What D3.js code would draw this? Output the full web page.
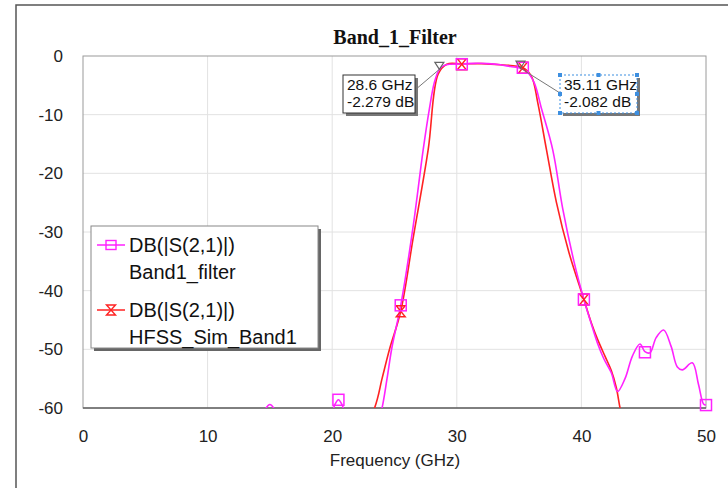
<!DOCTYPE html>
<html><head><meta charset="utf-8">
<script src="https://cdn.jsdelivr.net/npm/d3@7"></script>
<style>body{margin:0;background:#fff}svg{display:block}text{font-family:Arial,"Liberation Sans",sans-serif;fill:#222}</style>
</head><body><svg id="c" width="728" height="488"></svg>
<script>
const title = "Band_1_Filter";
const xLabel = "Frequency (GHz)";
const xTicks = [0,10,20,30,40,50];
const yTicks = [0,-10,-20,-30,-40,-50,-60];
// Band1_filter (magenta) trace [GHz, dB]
const filterFreq = [0,10,14,14.6,15,15.4,16,18,19.8,20.2,20.5,20.8,21.2,22.5,23.5,24.0,24.4,24.8,25.5,26.5,27.3,27.8,28.2,28.6,29.0,29.5,30.4,31.5,32.5,33.5,34.3,35.11,35.6,36.2,36.8,37.7,38.5,39.4,40.2,40.7,41.3,41.8,42.4,42.9,43.5,44.1,44.7,45.1,45.5,46.0,46.6,47.2,47.7,48.1,48.9,49.4,49.8,50];
const filterDb   = [-75,-70,-64,-60.3,-59.4,-60.3,-64,-66,-62,-59.5,-58.6,-59.5,-62,-68,-64,-60,-55,-49.6,-42.5,-29,-16,-9,-4.5,-2.279,-1.6,-1.4,-1.35,-1.25,-1.3,-1.5,-1.8,-2.082,-2.6,-4.5,-9,-16,-26,-35,-41.5,-45,-49,-51.6,-54,-57.2,-55,-51.1,-49.1,-50.4,-50.6,-48,-46.7,-49.5,-53,-53.5,-52.3,-56,-59.3,-59.5];
// HFSS_Sim_Band1 (red) trace
const hfssFreq = [20,23.4,24.0,24.6,25.5,26.5,27.7,28.5,29.2,30.4,32,33.5,35.3,36.0,36.5,37.2,38,39,40.2,40.8,41.3,41.9,42.4,42.8,43.1,43.5];
const hfssDb   = [-75,-60,-55,-50,-43.5,-31,-16,-3.1,-1.4,-1.35,-1.3,-1.5,-2.0,-3.5,-8,-16,-25,-33.5,-41.5,-45.5,-48.3,-51.2,-53.6,-56.5,-60,-64];
// symbol markers
const filterMarkFreq = [20.5,25.5,30.4,35.3,40.2,45.1,50];
const filterMarkDb   = [-58.6,-42.5,-1.4,-2.0,-41.5,-50.5,-59.5];
const hfssMarkFreq = [25.5,30.4,35.3,40.2];
const hfssMarkDb   = [-43.5,-1.4,-2.0,-41.5];
// marker readouts
const readFreq = [28.6,35.11];
const readDb = [-2.279,-2.082];
const readText = [["28.6 GHz","-2.279 dB"],["35.11 GHz","-2.082 dB"]];
const legendNames = [["DB(|S(2,1)|)","Band1_filter"],["DB(|S(2,1)|)","HFSS_Sim_Band1"]];

const MAG="#ff22ff", RED="#ff2222";
const svg=d3.select("#c");
const L=83,R=706,T=56,B=408;
const x=d3.scaleLinear().domain([0,50]).range([L,R]);
const y=d3.scaleLinear().domain([-60,0]).range([B,T]);

// outer window frame
svg.append("path").attr("d","M16,488V5H728").attr("fill","none").attr("stroke","#555").attr("stroke-width",1.5);

// grid
svg.append("g").selectAll("line").data(xTicks.slice(1,-1)).join("line")
 .attr("x1",d=>x(d)).attr("x2",d=>x(d)).attr("y1",T).attr("y2",B).attr("stroke","#e2e2e2");
svg.append("g").selectAll("line").data(yTicks.slice(1,-1)).join("line")
 .attr("y1",d=>y(d)).attr("y2",d=>y(d)).attr("x1",L).attr("x2",R).attr("stroke","#e2e2e2");
svg.append("rect").attr("x",L).attr("y",T).attr("width",R-L).attr("height",B-T).attr("fill","none").attr("stroke","#9a9a9a");
svg.append("line").attr("x1",L).attr("x2",R).attr("y1",B).attr("y2",B).attr("stroke","#666").attr("stroke-width",1.5);

// axes
const gx=svg.append("g").attr("transform",`translate(0,${B})`)
 .call(d3.axisBottom(x).tickValues(xTicks).tickSize(0).tickPadding(22).tickFormat(d3.format("d")));
const gy=svg.append("g").attr("transform",`translate(${L},0)`)
 .call(d3.axisLeft(y).tickValues(yTicks).tickSize(0).tickPadding(20).tickFormat(d3.format("d")));
[gx,gy].forEach(g=>{g.select(".domain").remove();g.selectAll("text").attr("font-size",17).style("fill","#222").style("font-family","Arial, 'Liberation Sans', sans-serif");});
gy.selectAll("text").text(d=>d===0?"0":"-"+Math.abs(d));

svg.append("text").attr("x",395).attr("y",466).attr("text-anchor","middle").attr("font-size",17).text(xLabel);
svg.append("text").attr("x",395).attr("y",44).attr("text-anchor","middle")
 .style("font-family","'Liberation Serif','Times New Roman',serif").attr("font-weight","bold").attr("font-size",20).style("fill","#111").text(title);

// clip
svg.append("clipPath").attr("id","pc").append("rect").attr("x",L).attr("y",T-2).attr("width",R-L).attr("height",B-T+2);
const line=d3.line().x(d=>x(d[0])).y(d=>y(d[1])).curve(d3.curveCatmullRom.alpha(0.5));
const filterPts=filterFreq.map((f,i)=>[f,filterDb[i]]);
const hfssPts=hfssFreq.map((f,i)=>[f,hfssDb[i]]);
const plot=svg.append("g").attr("clip-path","url(#pc)");
plot.append("path").attr("d",line(hfssPts)).attr("fill","none").attr("stroke",RED).attr("stroke-width",1.6);
plot.append("path").attr("d",line(filterPts)).attr("fill","none").attr("stroke",MAG).attr("stroke-width",1.6);

function square(g,cx,cy,s){g.append("rect").attr("x",cx-s/2).attr("y",cy-s/2).attr("width",s).attr("height",s).attr("fill","none").attr("stroke",MAG).attr("stroke-width",1.5);}
function bowtie(g,cx,cy,w,h){g.append("path").attr("d",`M${cx-w/2},${cy-h/2}H${cx+w/2}L${cx-w/2},${cy+h/2}H${cx+w/2}Z`).attr("fill","none").attr("stroke",RED).attr("stroke-width",1.4);}
const mk=svg.append("g");
hfssMarkFreq.forEach((f,i)=>bowtie(mk,x(f),y(hfssMarkDb[i]),9,11));
filterMarkFreq.forEach((f,i)=>square(mk,x(f),y(filterMarkDb[i]),11));

// readout markers
const boxes=[{x:343,y:75,w:72,h:38,sel:false,lx:415,ly:90},{x:560,y:75,w:77,h:38,sel:true,lx:560,ly:93}];
readFreq.forEach((f,i)=>{
  const px=x(f),py=y(readDb[i]),b=boxes[i];
  svg.append("line").attr("x1",b.lx).attr("y1",b.ly).attr("x2",px).attr("y2",py).attr("stroke","#777").attr("stroke-width",1);
  svg.append("path").attr("d",`M${px},${py}L${px-4.5},${py-7}H${px+4.5}Z`).attr("fill","none").attr("stroke","#666").attr("stroke-width",1.2);
  svg.append("rect").attr("x",b.x+3).attr("y",b.y+3).attr("width",b.w).attr("height",b.h).attr("fill","#777");
  svg.append("rect").attr("x",b.x).attr("y",b.y).attr("width",b.w).attr("height",b.h).attr("fill","#fff")
   .attr("stroke",b.sel?"#3d8fe0":"#333").attr("stroke-width",1).attr("stroke-dasharray",b.sel?"2,2":null);
  if(b.sel){
    const hx=[b.x,b.x+b.w/2,b.x+b.w],hy=[b.y,b.y+b.h/2,b.y+b.h];
    hx.forEach(a=>hy.forEach(c=>{ if(!(a===b.x+b.w/2&&c===b.y+b.h/2)) svg.append("rect").attr("x",a-2).attr("y",c-2).attr("width",4).attr("height",4).attr("fill","#3d8fe0");}));
  }
  readText[i].forEach((t,j)=>svg.append("text").attr("x",b.x+4).attr("y",b.y+15+17*j).attr("font-size",15.5).style("fill","#111").text(t));
});

// legend
const lg=svg.append("g");
lg.append("rect").attr("x",94).attr("y",229).attr("width",227).attr("height",122).attr("fill","#666");
lg.append("rect").attr("x",91).attr("y",226).attr("width",227).attr("height",122).attr("fill","#fff").attr("stroke","#888");
const ly=[245,310];
legendNames.forEach((nm,i)=>{
  const c=i===0?MAG:RED;
  lg.append("line").attr("x1",97).attr("x2",125).attr("y1",ly[i]).attr("y2",ly[i]).attr("stroke",c).attr("stroke-width",1.5);
  if(i===0){lg.append("rect").attr("x",106).attr("y",ly[i]-4.5).attr("width",10).attr("height",9).attr("fill","none").attr("stroke",MAG).attr("stroke-width",1.4);}
  else bowtie(lg,111,ly[i],9,10);
  nm.forEach((t,j)=>lg.append("text").attr("x",129).attr("y",ly[i]+27*j).attr("dy","0.35em").attr("font-size",20).style("fill","#111").text(t));
});
</script></body></html>
